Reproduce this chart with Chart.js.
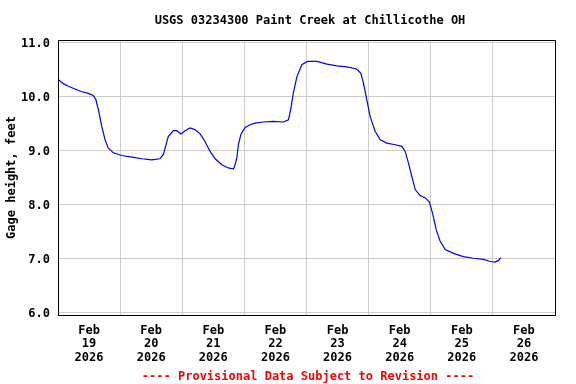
<!DOCTYPE html>
<html>
<head>
<meta charset="utf-8">
<script src="https://cdn.jsdelivr.net/npm/chart.js@4"></script>
<style>
  html, body { margin: 0; padding: 0; background: #fff; }
  #wrap { width: 576px; height: 384px; }
</style>
</head>
<body>
<div id="wrap"><canvas id="chart"></canvas></div>
<script>
// hours since Feb 19 2026 00:00
const hours = [0, 2, 4, 6.6, 9.2, 11.7, 13.6, 14.6, 15.6, 16.9, 18.2, 19.4, 21.4, 24.6, 28.5, 32.4,
  36.2, 39.4, 40.7, 41.4, 42.6, 44.6, 45.9, 47.5, 49.1, 51, 52.9, 54.9, 56.8, 58.7, 60.7, 63.3,
  65.8, 67.8, 68.4, 69.1, 69.7, 70.7, 72.3, 74.2, 76.1, 79.3, 83.2, 87.1, 89, 89.9, 90.9, 92.3,
  94.2, 96.4, 100, 103.9, 107.7, 111.6, 115.4, 117, 118, 119.3, 120.6, 122.5, 124.5, 127,
  130.3, 132.8, 134.1, 135.4, 136.7, 138, 139.9, 141.8, 143.5, 144.8, 146.1, 147.6, 149.6,
  152.8, 156.6, 160.5, 164.4, 167, 168.9, 170.2, 171.1];
const gageHeight = [10.31, 10.23, 10.18, 10.13, 10.08, 10.05, 10.01, 9.94, 9.75, 9.44, 9.19, 9.04, 8.95, 8.90, 8.87, 8.84,
  8.82, 8.84, 8.92, 9.04, 9.25, 9.36, 9.36, 9.30, 9.36, 9.41, 9.38, 9.30, 9.16, 8.98, 8.84, 8.73,
  8.67, 8.65, 8.73, 8.86, 9.10, 9.30, 9.42, 9.47, 9.50, 9.52, 9.53, 9.52, 9.56, 9.75, 10.05, 10.36,
  10.58, 10.64, 10.64, 10.59, 10.56, 10.54, 10.50, 10.42, 10.24, 9.93, 9.62, 9.35, 9.19, 9.13,
  9.10, 9.07, 8.98, 8.76, 8.51, 8.27, 8.16, 8.12, 8.04, 7.81, 7.53, 7.32, 7.16,
  7.09, 7.03, 7.00, 6.98, 6.94, 6.93, 6.96, 7.01];

const monthLabel = 'Feb';
const dayLabels = ['19', '20', '21', '22', '23', '24', '25', '26'];
const yearLabel = '2026';
const yTicks = [6.0, 7.0, 8.0, 9.0, 10.0, 11.0];

const titleText = 'USGS 03234300 Paint Creek at Chillicothe OH';
const yTitle = 'Gage height, feet';
const footerText = '---- Provisional Data Subject to Revision ----';

const FONT = '"DejaVu Sans Mono", "Liberation Mono", monospace';
Chart.defaults.font.family = FONT;
Chart.defaults.color = '#000';

const frame = {
  id: 'frame',
  afterDraw(chart) {
    const { ctx, chartArea: a } = chart;
    ctx.save();
    ctx.strokeStyle = '#000';
    ctx.lineWidth = 1;
    ctx.strokeRect(a.left + 0.5, a.top + 0.5, a.right - a.left, a.bottom - a.top);
    ctx.font = 'bold 12px ' + FONT;
    ctx.textAlign = 'center';
    ctx.textBaseline = 'middle';
    ctx.fillStyle = '#000';
    ctx.fillText(titleText, 310, 21);
    ctx.fillStyle = '#ff0000';
    ctx.fillText(footerText, 308, 377);
    ctx.restore();
  }
};

new Chart(document.getElementById('chart'), {
  type: 'line',
  data: {
    datasets: [{
      data: hours.map((h, i) => ({ x: h, y: gageHeight[i] })),
      borderColor: '#0000ff',
      borderWidth: 1.2,
      pointRadius: 0,
      tension: 0,
      fill: false,
    }],
  },
  options: {
    responsive: true,
    maintainAspectRatio: false,
    animation: false,
    layout: { padding: { top: 40, right: 21, left: 0, bottom: 0 } },
    plugins: {
      legend: { display: false },
      tooltip: { enabled: false },
    },
    scales: {
      x: {
        type: 'linear',
        min: 0,
        max: 192,
        afterBuildTicks: (scale) => {
          const t = [];
          for (let v = 0; v <= 192; v += 12) t.push({ value: v });
          scale.ticks = t;
        },
        afterFit: (scale) => { scale.height = 69; },
        border: { display: false },
        grid: {
          drawTicks: false,
          color: (c) => (c.tick && c.tick.value % 24 === 0 ? '#cccccc' : 'rgba(0,0,0,0)'),
        },
        ticks: {
          autoSkip: false,
          maxRotation: 0,
          padding: 9,
          font: { size: 12, weight: 'bold', lineHeight: 1.12 },
          callback: (v) => (v % 24 === 12 ? [monthLabel, dayLabels[(v - 12) / 24], yearLabel] : ''),
        },
      },
      y: {
        min: 5.95,
        max: 11.037,
        afterBuildTicks: (scale) => { scale.ticks = yTicks.map((v) => ({ value: v })); },
        afterFit: (scale) => { scale.width = 58; },
        border: { display: false },
        grid: { drawTicks: false, color: '#cccccc' },
        ticks: {
          padding: 8,
          labelOffset: 2,
          font: { size: 12, weight: 'bold' },
          callback: (v) => v.toFixed(1),
        },
        title: {
          display: true,
          text: yTitle,
          font: { size: 12, weight: 'bold' },
          padding: { top: 5, bottom: 0 },
        },
      },
    },
  },
  plugins: [frame],
});
</script>
</body>
</html>
